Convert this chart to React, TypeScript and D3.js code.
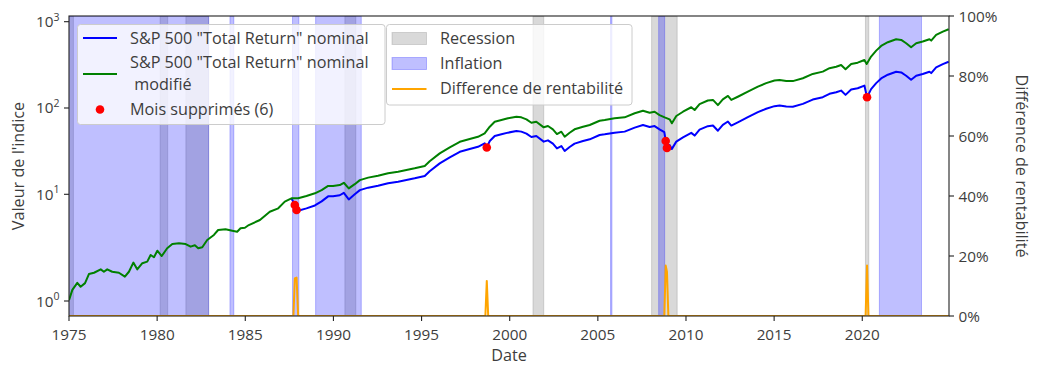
import React from 'react';
import * as d3 from 'd3';

// ---------- data ----------
const greenDates = [
  1975.00, 1975.19, 1975.47, 1975.66, 1975.91, 1976.13, 1976.42, 1976.80, 1976.98, 1977.17,
  1977.45, 1977.83, 1978.17, 1978.40, 1978.65, 1978.87, 1979.16, 1979.44, 1979.63, 1979.82,
  1980.01, 1980.26, 1980.57, 1980.86, 1981.24, 1981.62, 1981.90, 1982.14, 1982.33, 1982.56,
  1982.84, 1983.22, 1983.46, 1983.88, 1984.26, 1984.54, 1984.73, 1984.98, 1985.20, 1985.83,
  1986.39, 1986.87, 1987.24, 1987.62, 1988.00, 1988.47, 1988.95, 1989.33, 1989.70, 1989.98,
  1990.36, 1990.59, 1990.87, 1991.21, 1991.50, 1991.97, 1992.53, 1993.10, 1993.67, 1994.14,
  1994.61, 1995.18, 1995.46, 1996.03, 1996.60, 1997.17, 1997.73, 1998.20, 1998.58, 1998.87,
  1999.15, 1999.53, 1999.90, 2000.38, 2000.66, 2000.95, 2001.23, 2001.51, 2001.93, 2002.17,
  2002.45, 2002.68, 2002.93, 2003.12, 2003.40, 2003.68, 2004.16, 2004.54, 2005.10, 2005.39,
  2005.95, 2006.52, 2007.09, 2007.56, 2007.94, 2008.22, 2008.50, 2008.79, 2009.07, 2009.20,
  2009.45, 2009.83, 2010.30, 2010.49, 2010.77, 2011.24, 2011.53, 2011.81, 2012.09, 2012.38,
  2012.57, 2012.94, 2013.51, 2014.08, 2014.55, 2015.02, 2015.31, 2015.69, 2016.06, 2016.63,
  2017.19, 2017.76, 2018.14, 2018.52, 2018.80, 2019.05, 2019.37, 2019.74, 2020.12, 2020.25,
  2020.50, 2020.79, 2021.07, 2021.45, 2021.92, 2022.21, 2022.49, 2022.77, 2023.06, 2023.43,
  2023.81, 2023.91, 2024.19, 2024.57, 2024.90,
];
const greenValues = [
  1.02, 1.27, 1.48, 1.36, 1.47, 1.79, 1.84, 1.98, 1.88, 1.98,
  1.88, 1.84, 1.69, 1.88, 2.29, 1.98, 2.26, 2.34, 2.70, 2.57,
  2.96, 2.64, 3.12, 3.42, 3.47, 3.42, 3.23, 3.33, 3.12, 3.19,
  3.73, 4.16, 4.63, 4.70, 4.56, 4.46, 4.80, 4.86, 5.15, 5.74,
  6.87, 7.39, 8.53, 9.17, 9.17, 9.64, 10.27, 11.2, 12.5, 12.5,
  12.8, 13.6, 11.7, 13.1, 14.6, 15.6, 16.4, 17.5, 18.3, 19.1,
  20.0, 21.3, 24.2, 29.8, 35.0, 40.6, 43.7, 46.4, 50.9, 60.7,
  69.3, 72.6, 75.9, 79.2, 78.0, 73.9, 67.5, 69.3, 59.7, 61.8,
  56.6, 49.9, 53.1, 46.5, 51.7, 56.6, 60.7, 63.5, 71.2, 72.6,
  75.9, 78.0, 86.8, 93.0, 88.2, 90.5, 82.8, 78.0, 73.9, 66.5,
  80.7, 90.5, 102, 94.8, 111, 122, 124, 108, 126, 138,
  124, 135, 155, 177, 194, 208, 211, 206, 205, 221,
  248, 264, 289, 301, 315, 281, 324, 335, 360, 324,
  394, 462, 524, 578, 627, 615, 563, 506, 563, 589,
  627, 604, 703, 767, 818,
];

const blueDates = [
  1987.62, 1987.81, 1987.91, 1988.00, 1988.47, 1988.95, 1989.33, 1989.70, 1989.98, 1990.36,
  1990.59, 1990.87, 1991.21, 1991.50, 1991.97, 1992.53, 1993.10, 1993.67, 1994.14, 1994.61,
  1995.18, 1995.46, 1996.03, 1996.60, 1997.17, 1997.73, 1998.20, 1998.58, 1998.70, 1998.87,
  1999.15, 1999.53, 1999.90, 2000.38, 2000.66, 2000.95, 2001.23, 2001.51, 2001.93, 2002.17,
  2002.45, 2002.68, 2002.93, 2003.12, 2003.40, 2003.68, 2004.16, 2004.54, 2005.10, 2005.39,
  2005.95, 2006.52, 2007.09, 2007.56, 2007.94, 2008.22, 2008.50, 2008.77, 2008.85, 2008.92,
  2009.07, 2009.20, 2009.45, 2009.83, 2010.30, 2010.49, 2010.77, 2011.24, 2011.53, 2011.81,
  2012.09, 2012.38, 2012.57, 2012.94, 2013.51, 2014.08, 2014.55, 2015.02, 2015.31, 2015.69,
  2016.06, 2016.63, 2017.19, 2017.76, 2018.14, 2018.52, 2018.80, 2019.05, 2019.37, 2019.74,
  2020.12, 2020.27, 2020.50, 2020.79, 2021.07, 2021.45, 2021.92, 2022.21, 2022.49, 2022.77,
  2023.06, 2023.43, 2023.81, 2023.91, 2024.19, 2024.57, 2024.90,
];
const blueValues = [
  9.17, 7.94, 7.13, 7.02, 7.38, 7.86, 8.58, 9.57, 9.57, 9.80,
  10.41, 8.96, 10.03, 11.18, 11.94, 12.56, 13.40, 14.01, 14.62, 15.31,
  16.31, 18.53, 22.82, 26.80, 31.09, 33.46, 35.53, 38.97, 34.9, 41.43,
  47.30, 49.56, 51.81, 54.06, 53.24, 50.44, 46.08, 47.30, 40.75, 42.18,
  38.63, 34.06, 36.25, 31.74, 35.29, 38.63, 41.43, 43.34, 48.60, 49.56,
  51.81, 53.24, 59.25, 63.48, 60.20, 61.77, 56.52, 52.5, 41.5, 34.5,
  37.32, 33.59, 40.76, 45.71, 51.52, 47.88, 56.06, 61.62, 62.63, 54.55,
  63.64, 69.70, 62.63, 68.18, 78.28, 89.39, 97.98, 105.1, 106.6, 104.0,
  103.5, 111.6, 125.3, 133.3, 146.0, 152.0, 159.1, 141.9, 163.6, 169.2,
  181.8, 133.0, 165.5, 194.1, 220.2, 242.9, 263.4, 258.4, 236.6, 212.6,
  236.6, 247.5, 263.4, 253.8, 295.4, 322.3, 343.7,
];

const removedDates = [1987.81, 1987.91, 1998.70, 2008.85, 2008.92, 2020.27];
const removedValues = [7.94, 7.13, 34.9, 41.5, 34.5, 133.0];

const diffDates = [1975.0, 1987.73, 1987.81, 1987.91, 1988.0, 1998.62, 1998.70, 1998.78,
  2008.77, 2008.85, 2008.92, 2009.0, 2020.19, 2020.27, 2020.35, 2024.9];
const diffValues = [0, 0, 12.5, 12.8, 0, 0, 11.7, 0, 0, 16.8, 14.8, 0, 0, 16.8, 0, 0];

const recessionStarts = [1973.88, 1980.17, 1981.63, 1990.65, 2001.32, 2008.05, 2020.18];
const recessionEnds = [1975.25, 1980.60, 1982.92, 1991.27, 2001.93, 2009.50, 2020.37];
const inflationStarts = [1973.00, 1984.13, 1987.68, 1988.99, 2005.72, 2008.45, 2020.97];
const inflationEnds = [1982.92, 1984.35, 1988.04, 1991.58, 2005.80, 2008.79, 2023.36];

const xTicks = [1975, 1980, 1985, 1990, 1995, 2000, 2005, 2010, 2015, 2020];
const yTickExps = [0, 1, 2, 3];
const pctTicks = [0, 20, 40, 60, 80, 100];

// ---------- layout ----------
const W = 1038;
const H = 375;
const L = 69, R = 949, T = 16, B = 316;
const FONT = '"Open Sans", Lato, "DejaVu Sans", sans-serif';
const TXT = '#3d3d3d';
const FS = 15.3;   // tick labels
const FL = 16.2;   // legend and axis titles

export default function App() {
  const x = d3.scaleLinear().domain([1975, 2024.92]).range([L, R]);
  // piecewise log scale
  const y = d3.scaleLog().domain([0.723, 1, 10, 1164]).range([B, 301, 194.3, T]);
  const yr = d3.scaleLinear().domain([0, 100]).range([B, T]);

  const mk = (dates: number[], vals: number[], ys: (v: number) => number) =>
    d3.line<number>().x((_, i) => x(dates[i])).y((v) => ys(v))(vals) || '';

  const greenPath = mk(greenDates, greenValues, y);
  const bluePath = mk(blueDates, blueValues, y);
  const diffPath = mk(diffDates, diffValues, yr);

  return (
    <svg width={W} height={H} style={{ position: 'absolute', left: 0, top: 0, background: '#fff' }}
      fontFamily={FONT}>
      <defs>
        <clipPath id="plot"><rect x={L} y={T} width={R - L} height={B - T} /></clipPath>
      </defs>
      <rect x={0} y={0} width={W} height={H} fill="#fff" />
      <g clipPath="url(#plot)">
        {recessionStarts.map((s, i) => (
          <rect key={'r' + i} x={x(s)} y={T} width={x(recessionEnds[i]) - x(s)} height={B - T}
            fill="#808080" fillOpacity={0.3} stroke="#808080" strokeOpacity={0.3} strokeWidth={1} />
        ))}
        {inflationStarts.map((s, i) => (
          <rect key={'i' + i} x={x(s)} y={T} width={x(inflationEnds[i]) - x(s)} height={B - T}
            fill="#0000ff" fillOpacity={0.25} stroke="#0000ff" strokeOpacity={0.25} strokeWidth={1} />
        ))}
        <path d={bluePath} fill="none" stroke="#0000ff" strokeWidth={2} strokeLinejoin="round" />
        <path d={greenPath} fill="none" stroke="#008000" strokeWidth={2} strokeLinejoin="round" />
        {removedDates.map((d, i) => (
          <circle key={'m' + i} cx={x(d)} cy={y(removedValues[i])} r={4.3} fill="#ff0000" />
        ))}
      </g>

      {/* legend 1 */}
      <g>
        <rect x={77.5} y={24.5} width={307.5} height={100} rx={3} fill="#fff" fillOpacity={0.8}
          stroke="#cccccc" strokeWidth={1} />
        <line x1={83} x2={117} y1={38} y2={38} stroke="#0000ff" strokeWidth={2} />
        <text x={130} y={44} fontSize={FL} fill={TXT}>S&amp;P 500 "Total Return" nominal</text>
        <line x1={83} x2={117} y1={74} y2={74} stroke="#008000" strokeWidth={2} />
        <text x={130} y={67.5} fontSize={FL} fill={TXT}>S&amp;P 500 "Total Return" nominal</text>
        <text x={130} y={90} fontSize={FL} fill={TXT} xmlSpace="preserve"> modifié</text>
        <circle cx={100} cy={109.5} r={4.3} fill="#ff0000" />
        <text x={130} y={114.5} fontSize={FL} fill={TXT}>Mois supprimés (6)</text>
      </g>

      {/* difference line on right axis */}
      <g clipPath="url(#plot)">
        <path d={diffPath} fill="none" stroke="#ffa500" strokeWidth={2} strokeLinejoin="round" />
      </g>

      {/* legend 2 */}
      <g>
        <rect x={386.5} y={24.5} width={245.5} height={80.5} rx={3} fill="#fff" fillOpacity={0.8}
          stroke="#cccccc" strokeWidth={1} />
        <rect x={392} y={32.5} width={34.5} height={12} fill="#808080" fillOpacity={0.3}
          stroke="#808080" strokeOpacity={0.3} />
        <text x={440} y={44} fontSize={FL} fill={TXT}>Recession</text>
        <rect x={392} y={57.5} width={34.5} height={12} fill="#0000ff" fillOpacity={0.25}
          stroke="#0000ff" strokeOpacity={0.25} />
        <text x={440} y={69} fontSize={FL} fill={TXT}>Inflation</text>
        <line x1={392} x2={426.5} y1={89} y2={89} stroke="#ffa500" strokeWidth={2} />
        <text x={440} y={94} fontSize={FL} fill={TXT}>Difference de rentabilité</text>
      </g>

      {/* frame */}
      <rect x={L} y={T} width={R - L} height={B - T} fill="none" stroke="#222" strokeWidth={1.1} />

      {/* x axis */}
      {xTicks.map((t) => (
        <g key={'x' + t}>
          <line x1={x(t)} x2={x(t)} y1={B} y2={B + 5} stroke="#222" strokeWidth={1.1} />
          <text x={x(t)} y={340} textAnchor="middle" fontSize={FS} fill={TXT}>{t}</text>
        </g>
      ))}
      <text x={(L + R) / 2} y={361} textAnchor="middle" fontSize={FL} fill={TXT}>Date</text>

      {/* left log axis */}
      {yTickExps.map((e) => {
        const v = Math.pow(10, e);
        return (
          <g key={'y' + e}>
            <line x1={L - 5} x2={L} y1={y(v)} y2={y(v)} stroke="#222" strokeWidth={1.1} />
            <text x={L - 9.5} y={y(v) + 5.5} textAnchor="end" fontSize={FS} fill={TXT}>
              10<tspan fontSize={10.5} dy={-6.5}>{e}</tspan>
            </text>
          </g>
        );
      })}
      <text transform={`translate(24,166) rotate(-90)`} textAnchor="middle" fontSize={FL} fill={TXT}>
        Valeur de l'indice
      </text>

      {/* right percent axis */}
      {pctTicks.map((p) => (
        <g key={'p' + p}>
          <line x1={R} x2={R + 5} y1={yr(p)} y2={yr(p)} stroke="#222" strokeWidth={1.1} />
          <text x={R + 9.5} y={yr(p) + 5.5} fontSize={FS} fill={TXT}>{p}%</text>
        </g>
      ))}
      <text transform={`translate(1016,166) rotate(90)`} textAnchor="middle" fontSize={FL} fill={TXT}>
        Différence de rentabilité
      </text>
    </svg>
  );
}
